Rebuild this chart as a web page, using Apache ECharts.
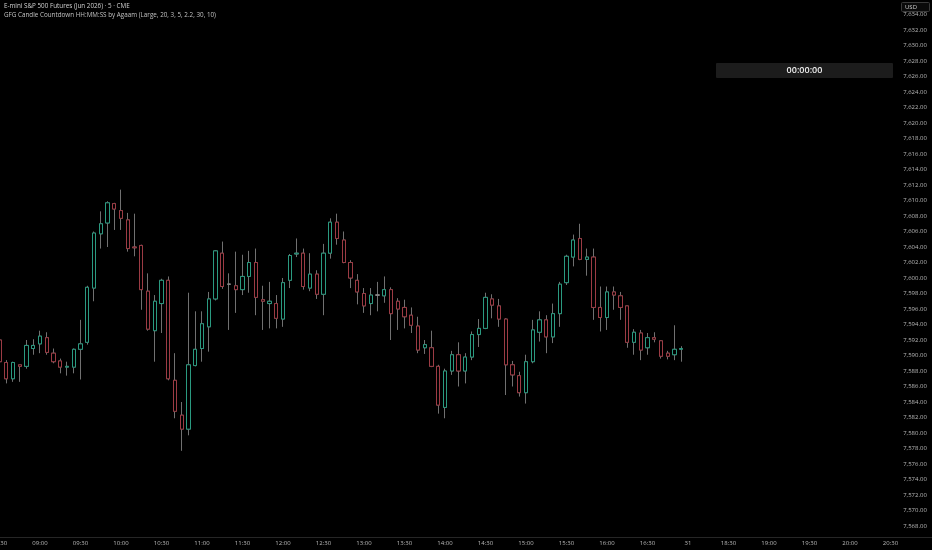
<!DOCTYPE html>
<html>
<head>
<meta charset="utf-8">
<script src="https://cdn.jsdelivr.net/npm/echarts@6/dist/echarts.min.js"></script>
<style>
html,body{margin:0;padding:0;background:#000;}
#chart{width:932px;height:550px;}
</style>
</head>
<body>
<div id="chart"></div>
<script>
// ---- data (5-minute bars, E-mini S&P 500 Jun 2026) ----
const times = ["08:30","08:35","08:40","08:45","08:50","08:55",
"09:00","09:05","09:10","09:15","09:20","09:25","09:30","09:35","09:40","09:45","09:50","09:55",
"10:00","10:05","10:10","10:15","10:20","10:25","10:30","10:35","10:40","10:45","10:50","10:55",
"11:00","11:05","11:10","11:15","11:20","11:25","11:30","11:35","11:40","11:45","11:50","11:55",
"12:00","12:05","12:10","12:15","12:20","12:25","12:30","12:35","12:40","12:45","12:50","12:55",
"13:00","13:05","13:10","13:15","13:20","13:25","13:30","13:35","13:40","13:45","13:50","13:55",
"14:00","14:05","14:10","14:15","14:20","14:25","14:30","14:35","14:40","14:45","14:50","14:55",
"15:00","15:05","15:10","15:15","15:20","15:25","15:30","15:35","15:40","15:45","15:50","15:55",
"16:00","16:05","16:10","16:15","16:20","16:25","16:30","16:35","16:40","16:45","16:50","16:55"];
const futureTimes = ["18:00","18:05","18:10","18:15","18:20","18:25","18:30","18:35","18:40","18:45","18:50","18:55",
"19:00","19:05","19:10","19:15","19:20","19:25","19:30","19:35","19:40","19:45","19:50","19:55",
"20:00","20:05","20:10","20:15","20:20","20:25","20:30"];
const openP = [7592.0,7589.1,7587.0,7588.8,7588.6,7590.9,
7591.5,7592.3,7590.3,7589.3,7588.5,7588.5,7590.8,7591.7,7598.7,7605.7,7607.1,7609.6,
7608.7,7607.5,7604.0,7604.2,7598.3,7593.2,7596.7,7599.7,7586.8,7582.3,7580.5,7588.7,
7590.9,7593.7,7597.3,7603.2,7599.2,7599.0,7598.5,7600.2,7602.0,7597.2,7596.7,7596.7,
7594.7,7599.7,7603.1,7603.2,7598.7,7600.5,7597.9,7603.2,7607.2,7604.9,7602.0,7599.7,
7598.0,7596.7,7597.8,7597.7,7598.5,7597.0,7596.2,7595.2,7593.8,7591.0,7591.0,7588.6,
7583.3,7588.0,7590.1,7588.0,7589.8,7592.7,7593.5,7597.3,7596.4,7594.7,7588.8,7587.4,
7585.2,7589.2,7593.0,7594.6,7592.4,7595.4,7599.4,7602.7,7605.1,7602.4,7602.7,7596.2,
7594.9,7598.2,7597.7,7596.4,7591.7,7592.9,7591.0,7592.3,7591.9,7590.3,7590.1,7590.8];
const highP = [7592.8,7589.4,7589.2,7588.8,7592.0,7592.1,
7593.2,7593.0,7590.9,7589.6,7589.2,7590.9,7594.6,7599.0,7606.0,7608.6,7609.9,7609.7,
7611.4,7608.4,7608.3,7604.3,7600.6,7597.8,7599.9,7600.2,7590.3,7584.0,7598.1,7595.7,
7595.7,7598.2,7603.6,7604.7,7600.6,7603.4,7603.0,7603.5,7603.8,7599.0,7599.5,7597.8,
7600.0,7603.1,7605.1,7603.8,7603.2,7601.0,7604.4,7607.7,7608.3,7606.0,7602.3,7600.5,
7598.7,7598.7,7599.5,7600.2,7598.8,7597.4,7597.2,7596.2,7595.0,7592.0,7593.2,7588.8,
7588.3,7590.6,7591.7,7590.3,7593.1,7594.7,7598.1,7597.9,7597.3,7594.8,7589.3,7587.9,
7590.1,7594.6,7595.7,7595.2,7596.7,7599.5,7603.0,7605.6,7607.0,7603.8,7603.8,7598.9,
7598.9,7598.9,7598.2,7596.4,7593.4,7593.3,7592.9,7593.0,7592.0,7590.6,7593.9,7591.2];
const lowP = [7586.2,7586.4,7586.6,7586.6,7588.3,7590.1,
7590.3,7590.1,7589.0,7587.7,7587.4,7587.7,7586.9,7591.4,7597.0,7603.8,7604.0,7606.2,
7606.2,7603.4,7602.8,7595.9,7593.2,7589.2,7592.9,7586.8,7581.9,7577.7,7579.7,7588.6,
7589.2,7590.5,7597.1,7598.6,7593.3,7595.5,7597.8,7598.1,7595.2,7593.3,7593.5,7593.5,
7593.7,7598.7,7602.7,7598.5,7598.3,7597.3,7595.2,7602.5,7604.3,7601.9,7598.7,7596.6,
7595.5,7595.2,7595.7,7596.8,7592.0,7593.3,7593.5,7592.9,7590.3,7590.2,7588.5,7582.5,
7581.9,7587.5,7586.0,7586.4,7589.4,7591.1,7593.4,7594.8,7593.7,7584.9,7586.0,7584.7,
7583.8,7589.0,7591.8,7590.3,7591.6,7593.7,7599.1,7601.5,7602.3,7600.3,7594.6,7593.1,
7593.3,7595.9,7594.6,7591.0,7590.1,7589.4,7590.1,7591.7,7589.6,7589.5,7589.4,7589.2];
const closeP = [7589.2,7587.0,7589.1,7588.6,7591.3,7591.3,
7592.5,7590.4,7589.2,7588.5,7588.6,7590.8,7591.5,7598.8,7605.8,7607.0,7609.7,7608.9,
7607.7,7603.8,7603.9,7598.5,7593.4,7597.0,7599.7,7587.0,7582.8,7580.5,7588.8,7590.8,
7594.1,7597.3,7603.5,7598.9,7599.2,7598.5,7600.2,7602.0,7597.5,7597.0,7597.0,7594.8,
7599.4,7602.9,7603.2,7598.9,7600.5,7597.9,7603.2,7607.2,7605.1,7602.0,7600.0,7598.2,
7596.4,7597.8,7597.8,7598.5,7595.4,7596.0,7595.0,7593.9,7590.7,7591.4,7588.6,7583.6,
7588.0,7590.1,7588.0,7589.8,7592.7,7593.5,7597.5,7596.5,7594.7,7588.8,7587.5,7585.2,
7589.2,7593.3,7594.6,7592.4,7595.4,7599.2,7602.8,7604.9,7602.4,7602.7,7596.2,7594.9,
7598.2,7597.8,7596.2,7591.7,7593.0,7590.7,7592.3,7592.1,7589.9,7589.9,7590.8,7590.9];
const priceMin = 7566, priceMax = 7636, priceStep = 2;
const titleLine1 = "E-mini S&P 500 Futures (Jun 2026) · 5 · CME";
const titleLine2 = "GFG Candle Countdown HH:MM:SS by Agaam (Large, 20, 3, 5, 2.2, 30, 10)";
const countdownText = "00:00:00";
const currencyText = "USD";

// ---- build ----
const categories = times.concat(futureTimes);
const fullCandles = times.map((t, i) => [openP[i], closeP[i], lowP[i], highP[i]]);
const bodyCandles = times.map((t, i) => [openP[i], closeP[i], Math.min(openP[i], closeP[i]), Math.max(openP[i], closeP[i])]);

const FONT = "'Open Sans', 'Noto Sans', sans-serif";
const UP = '#2a9a80', DOWN = '#9c3b44', WICK = '#707070';

const chart = echarts.init(document.getElementById('chart'), null, {renderer: 'canvas'});
chart.setOption({
  backgroundColor: '#000000',
  animation: false,
  grid: {left: -3.875, right: 38.125, top: -1, bottom: 8.5, containLabel: false, outerBoundsMode: 'none'},
  xAxis: {
    type: 'category',
    data: categories,
    boundaryGap: true,
    axisLine: {show: false},
    axisTick: {show: false},
    splitLine: {show: false},
    axisLabel: {
      color: '#b8b8b8', fontSize: 6, fontFamily: FONT, margin: -1, hideOverlap: false,
      interval: function (idx, val) { return /:(00|30)$/.test(val); },
      formatter: function (val) { return val === '18:00' ? '31' : val; }
    }
  },
  yAxis: {
    type: 'value',
    position: 'right',
    min: priceMin, max: priceMax, interval: priceStep,
    axisLine: {show: false},
    axisTick: {show: false},
    splitLine: {show: false},
    axisLabel: {
      color: '#b8b8b8', fontSize: 6, fontFamily: FONT, align: 'right', margin: 33,
      showMinLabel: false, showMaxLabel: false,
      formatter: function (v) {
        return v.toLocaleString('en-US', {minimumFractionDigits: 2, maximumFractionDigits: 2});
      }
    }
  },
  series: [
    {
      type: 'candlestick', name: 'wick', data: fullCandles, barWidth: 3.6,
      itemStyle: {color: '#000', color0: '#000', borderColor: WICK, borderColor0: WICK, borderColorDoji: WICK, borderWidth: 1}
    },
    {
      type: 'candlestick', name: 'body', data: bodyCandles, barWidth: 3.6,
      itemStyle: {color: '#000', color0: '#000', borderColor: UP, borderColor0: DOWN, borderColorDoji: '#8a8a8a', borderWidth: 1}
    }
  ],
  graphic: [
    {type: 'line', shape: {x1: 0, y1: 537.5, x2: 932, y2: 537.5}, style: {stroke: '#262626', lineWidth: 1}, z: 10},
    {type: 'text', x: 4, y: 6, style: {text: titleLine1, fill: '#d0d0d0', font: '6.3px ' + FONT, verticalAlign: 'middle'}, z: 10},
    {type: 'text', x: 4, y: 15, style: {text: titleLine2, fill: '#c0c0c0', font: '6.3px ' + FONT, verticalAlign: 'middle'}, z: 10},
    {type: 'rect', shape: {x: 716, y: 63, width: 177, height: 15, r: 1}, style: {fill: '#1c1c1c'}, z: 10},
    {type: 'text', x: 804.5, y: 70.5, style: {text: countdownText, fill: '#eeeeee', font: '600 9px ' + FONT, align: 'center', verticalAlign: 'middle'}, z: 11},
    {type: 'rect', shape: {x: 901.5, y: 2.5, width: 28, height: 9, r: 1}, style: {fill: '#0a0a0a', stroke: '#3a3a3a', lineWidth: 1}, z: 10},
    {type: 'text', x: 905, y: 7, style: {text: currencyText, fill: '#d0d0d0', font: '6px ' + FONT, verticalAlign: 'middle'}, z: 11}
  ]
});
</script>
</body>
</html>
